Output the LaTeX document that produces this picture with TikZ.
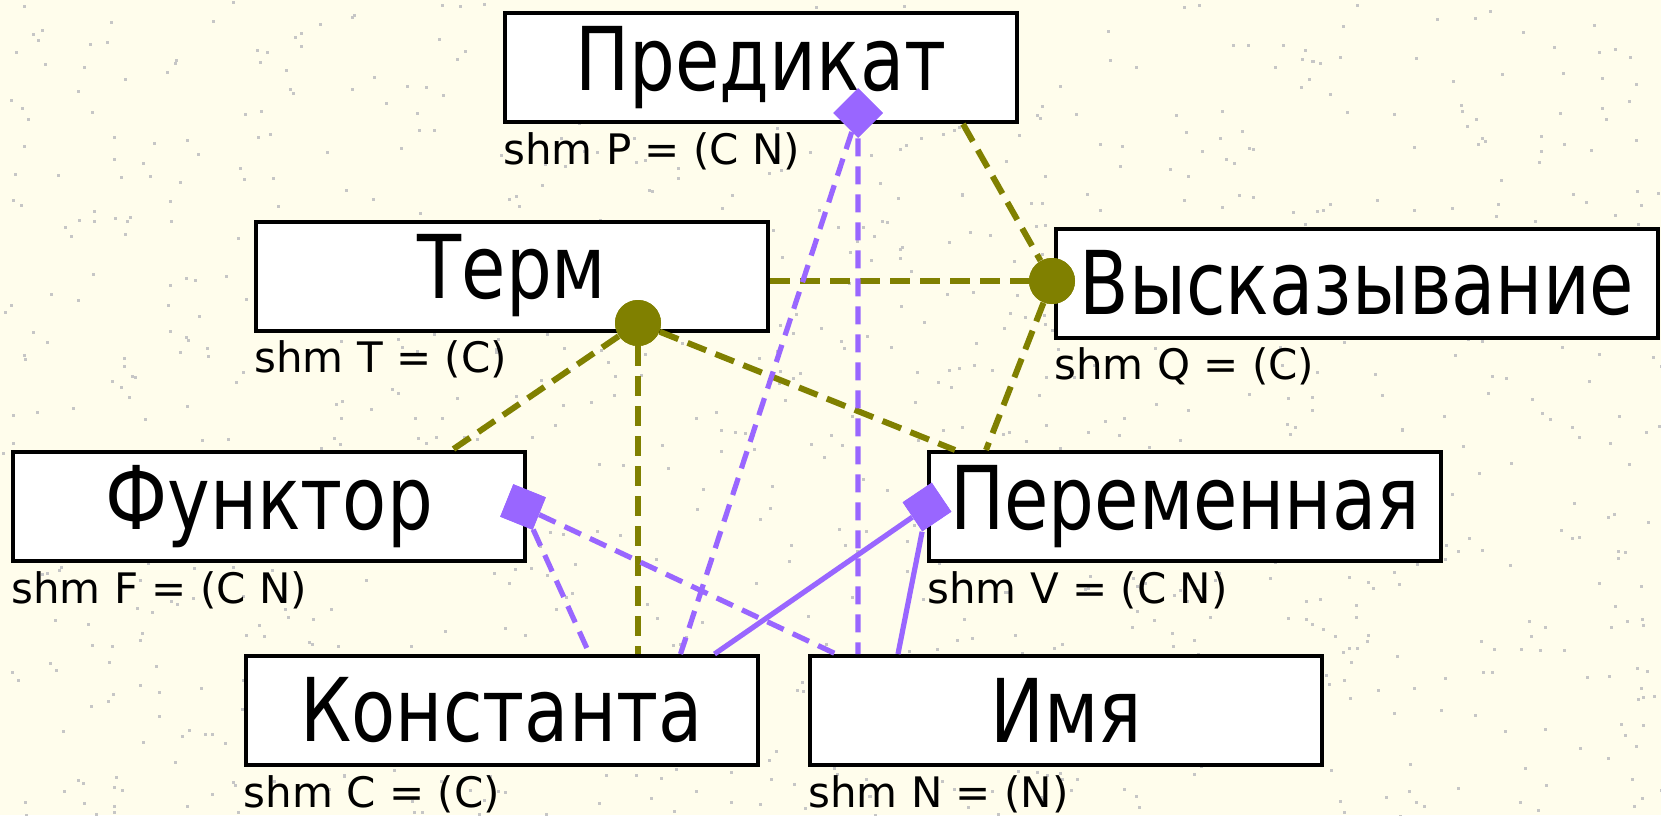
\documentclass[tikz,border=0pt]{standalone}
\usepackage{fontspec}
\setmainfont{DejaVu Sans}
\newfontfamily\namefont[FakeStretch=0.82]{DejaVu Sans}
\usepackage{xcolor}
\usepackage{tikz}
\usetikzlibrary{positioning}
\definecolor{papercream}{HTML}{FFFDEC}
\definecolor{termolive}{HTML}{808000}
\definecolor{aggpurple}{HTML}{9966FF}

\begin{document}
\begin{tikzpicture}[x=0.5pt, y=-0.5pt,
    namebox/.style={draw, line width=2pt, fill=white, inner sep=0pt,
        minimum width=256pt, minimum height=54.5pt,
        font=\namefont\fontsize{44}{44}\selectfont},
    schema/.style={inner sep=0pt, font=\fontsize{21}{21}\selectfont},
    olivedash/.style={draw=termolive, line width=3pt, dash pattern=on 10pt off 5pt},
    purpledash/.style={draw=aggpurple, line width=2.6pt, dash pattern=on 9pt off 5pt},
    purplesolid/.style={draw=aggpurple, line width=2.6pt},
    joint/.style={circle, fill=termolive, inner sep=0pt, minimum size=23pt},
    aggmark/.style={rectangle, fill=aggpurple, inner sep=0pt, minimum size=17.5pt}]

    % paper
    \useasboundingbox (0,0) rectangle (1661,815);
    \fill[papercream] (0,0) rectangle (1661,815);
    \pgfmathsetseed{42}
    \foreach \k in {1,...,1100}{
        \pgfmathsetmacro{\sx}{rnd*1661}
        \pgfmathsetmacro{\sy}{rnd*815}
        \fill[gray!45] (\sx,\sy) rectangle ++(3,3);
    }

    % concepts
    \node[namebox] (pred) at (761,67.5) {Предикат};
    \node[namebox] (term) at (512,276) {Терм};
    \node[namebox, minimum width=301pt] (stmt) at (1357,283) {Высказывание};
    \node[namebox] (func) at (269,506.5) {Функтор};
    \node[namebox] (var) at (1185,506.5) {Переменная};
    \node[namebox] (const) at (501.5,710.5) {Константа};
    \node[namebox] (name) at (1066,710.5) {Имя};

    \node[schema, below right=4pt and 0pt of pred.south west] (predshm) {shm P = (C N)};
    \node[schema, below right=4pt and 0pt of term.south west] (termshm) {shm T = (C)};
    \node[schema, below right=4pt and 0pt of stmt.south west] (stmtshm) {shm Q = (C)};
    \node[schema, below right=4pt and 0pt of func.south west] (funcshm) {shm F = (C N)};
    \node[schema, below right=4pt and 0pt of var.south west] (varshm) {shm V = (C N)};
    \node[schema, below right=4pt and 0pt of const.south west] (constshm) {shm C = (C)};
    \node[schema, below right=4pt and 0pt of name.south west] (nameshm) {shm N = (N)};

    % markers
    \node[joint] (termdot) at (638,323) {};
    \node[joint] (stmtdot) at (1052,281) {};
    \node[aggmark, rotate=45] (preddia) at (858,113) {};
    \node[aggmark, rotate=68] (funcdia) at (523,507) {};
    \node[aggmark, rotate=34] (vardia) at (927,507) {};

    % olive links
    \draw[olivedash] ([xshift=-28pt]pred.south east) -- (stmtdot);
    \draw[olivedash] (term.east |- stmtdot) -- (stmtdot);
    \draw[olivedash] (stmtdot) -- ([xshift=29.5pt]var.north west);
    \draw[olivedash] (termdot) -- ([xshift=-37.5pt]func.north east);
    \draw[olivedash] (termdot) -- (termdot |- const.north);
    \draw[olivedash] (termdot) -- ([xshift=14pt]var.north west);

    % purple links
    \draw[purpledash] (preddia) -- ([xshift=-39.5pt]const.north east);
    \draw[purpledash] (preddia) -- (preddia |- name.north);
    \draw[purpledash] (funcdia) -- ([xshift=173pt]const.north west);
    \draw[purpledash] (funcdia) -- ([xshift=14pt]name.north west);
    \draw[purplesolid] (vardia) -- ([xshift=-22.5pt]const.north east);
    \draw[purplesolid] (vardia) -- ([xshift=45pt]name.north west);

    % markers on top
    \node[joint] at (termdot) {};
    \node[joint] at (stmtdot) {};
    \node[aggmark, rotate=45] at (preddia) {};
    \node[aggmark, rotate=68] at (funcdia) {};
    \node[aggmark, rotate=34] at (vardia) {};
\end{tikzpicture}
\end{document}
